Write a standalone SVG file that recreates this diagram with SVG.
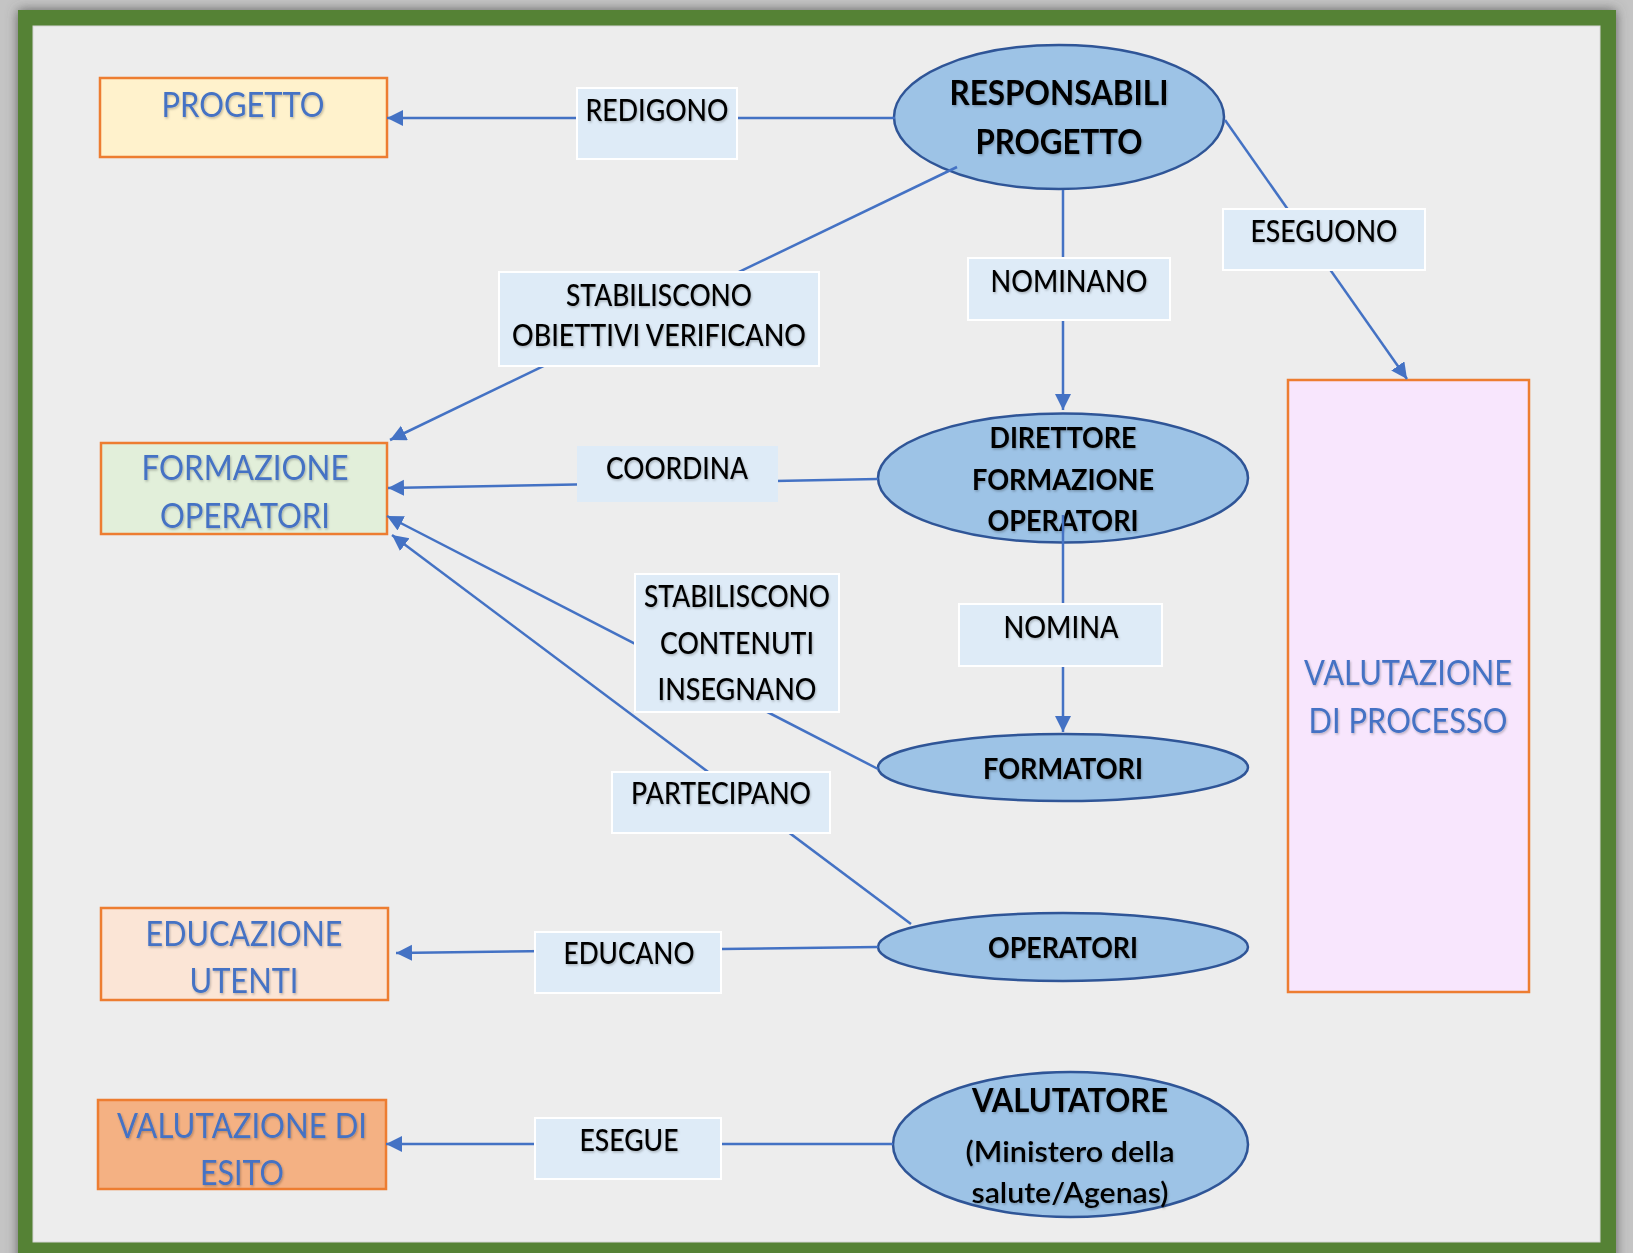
<svg xmlns="http://www.w3.org/2000/svg" width="1633" height="1253" viewBox="0 0 1633 1253">
<defs>
<filter id="fshadow" x="-5%" y="-5%" width="110%" height="110%">
<feDropShadow dx="0" dy="0" stdDeviation="6" flood-color="#555555" flood-opacity="0.9"/>
</filter>
<filter id="tshadow" x="-10%" y="-30%" width="120%" height="160%">
<feDropShadow dx="1" dy="1.5" stdDeviation="1" flood-color="#000000" flood-opacity="0.25"/>
</filter>
<marker id="arr" markerUnits="userSpaceOnUse" markerWidth="17" markerHeight="17" refX="16" refY="8" orient="auto">
<path d="M0,0 L16,8 L0,16 z" fill="#4472c4"/>
</marker>
</defs>
<style>
.box{stroke:#ed7d31;stroke-width:2.5}
.ell{fill:#9dc3e6;stroke:#2f5597;stroke-width:2.5}
.lbl{fill:#deebf7;stroke:#ffffff;stroke-width:2}
.con{fill:none;stroke:#4472c4;stroke-width:2.5}
.arrow{marker-end:url(#arr)}
text{font-family:Lato,"Open Sans","Liberation Sans",sans-serif;text-anchor:middle;filter:url(#tshadow)}
.bt{fill:#4472c4;font-size:34px}
.nt{fill:#000000;font-size:32px;font-weight:bold}
.lt{fill:#000000;font-size:30px;font-weight:500}
</style>
<rect x="0" y="0" width="1633" height="1253" fill="#c4c4c4"/>
<rect x="18" y="10" width="1598" height="1260" fill="#548235" filter="url(#fshadow)"/>
<rect x="33" y="26" width="1567" height="1216" fill="#ededed" stroke="#d6d6d6" stroke-width="1"/>

<g id="progetto">
<rect class="box" x="100" y="78" width="287" height="79" fill="#fff2cc"/>
<text class="bt" x="243" y="117" textLength="163" lengthAdjust="spacingAndGlyphs">PROGETTO</text>
</g>
<g id="formazione-operatori">
<rect class="box" x="101" y="443" width="286" height="91" fill="#e2efda"/>
<text class="bt" x="245" y="480" textLength="207" lengthAdjust="spacingAndGlyphs">FORMAZIONE</text>
<text class="bt" x="245" y="528" textLength="170" lengthAdjust="spacingAndGlyphs">OPERATORI</text>
</g>
<g id="educazione-utenti">
<rect class="box" x="101" y="908" width="287" height="92" fill="#fbe5d6"/>
<text class="bt" x="244" y="946" textLength="197" lengthAdjust="spacingAndGlyphs">EDUCAZIONE</text>
<text class="bt" x="244" y="993" textLength="109" lengthAdjust="spacingAndGlyphs">UTENTI</text>
</g>
<g id="valutazione-esito">
<rect class="box" x="98" y="1100" width="288" height="89" fill="#f4b183"/>
<text class="bt" x="242" y="1138" textLength="250" lengthAdjust="spacingAndGlyphs">VALUTAZIONE DI</text>
<text class="bt" x="242" y="1185" textLength="84" lengthAdjust="spacingAndGlyphs">ESITO</text>
</g>
<g id="valutazione-processo">
<rect class="box" x="1288" y="380" width="241" height="612" fill="#f8e6fd"/>
<text class="bt" x="1408" y="685" textLength="208" lengthAdjust="spacingAndGlyphs">VALUTAZIONE</text>
<text class="bt" x="1408" y="733" textLength="199" lengthAdjust="spacingAndGlyphs">DI PROCESSO</text>
</g>
<g id="responsabili-progetto">
<ellipse class="ell" cx="1059" cy="117" rx="165" ry="72"/>
<text class="nt" x="1059" y="105" textLength="219" lengthAdjust="spacingAndGlyphs" style="font-size:35px">RESPONSABILI</text>
<text class="nt" x="1059" y="154" textLength="167" lengthAdjust="spacingAndGlyphs" style="font-size:35px">PROGETTO</text>
</g>
<g id="direttore">
<ellipse class="ell" cx="1063" cy="478" rx="185" ry="64.5"/>
<text class="nt" x="1063" y="448" textLength="147" lengthAdjust="spacingAndGlyphs" style="font-size:29px">DIRETTORE</text>
<text class="nt" x="1063" y="490" textLength="182" lengthAdjust="spacingAndGlyphs" style="font-size:29px">FORMAZIONE</text>
<text class="nt" x="1063" y="531" textLength="151" lengthAdjust="spacingAndGlyphs" style="font-size:29px">OPERATORI</text>
</g>
<g id="formatori">
<ellipse class="ell" cx="1063" cy="767.5" rx="185" ry="33.5"/>
<text class="nt" x="1063" y="779" textLength="160" lengthAdjust="spacingAndGlyphs" style="font-size:29px">FORMATORI</text>
</g>
<g id="operatori">
<ellipse class="ell" cx="1063" cy="947" rx="185" ry="34"/>
<text class="nt" x="1063" y="958" textLength="150" lengthAdjust="spacingAndGlyphs" style="font-size:29px">OPERATORI</text>
</g>
<g id="valutatore">
<ellipse class="ell" cx="1070.5" cy="1144.5" rx="177.5" ry="72.5"/>
<text class="nt" x="1070" y="1112" textLength="196" lengthAdjust="spacingAndGlyphs" style="font-size:33px">VALUTATORE</text>
<text class="nt" x="1070" y="1162" textLength="209" lengthAdjust="spacingAndGlyphs" style="font-size:28px;font-weight:600">(Ministero della</text>
<text class="nt" x="1070" y="1203" textLength="197" lengthAdjust="spacingAndGlyphs" style="font-size:28px;font-weight:600">salute/Agenas)</text>
</g>

<g id="connectors">
<path class="con arrow" d="M895,118 L387,118"/>
<path class="con arrow" d="M957,167 L390,440"/>
<path class="con arrow" d="M1063,190 L1063,410"/>
<path class="con arrow" d="M1225,120 L1407,379"/>
<path class="con arrow" d="M878,479 L388,488"/>
<path class="con arrow" d="M1063,515 L1063,732"/>
<path class="con arrow" d="M878,769 L387,516"/>
<path class="con arrow" d="M911,924 L392,535"/>
<path class="con arrow" d="M878,947 L396,953"/>
<path class="con arrow" d="M893,1144 L386,1144"/>
</g>

<g id="labels">
<g id="lbl-redigono">
<rect class="lbl" x="577" y="88" width="160" height="71"/>
<text class="lt" x="657" y="121" textLength="143" lengthAdjust="spacingAndGlyphs">REDIGONO</text>
</g>
<g id="lbl-stabiliscono-obiettivi">
<rect class="lbl" x="499" y="272" width="320" height="94"/>
<text class="lt" x="659" y="306" textLength="186" lengthAdjust="spacingAndGlyphs">STABILISCONO</text>
<text class="lt" x="659" y="346" textLength="294" lengthAdjust="spacingAndGlyphs">OBIETTIVI VERIFICANO</text>
</g>
<g id="lbl-nominano">
<rect class="lbl" x="968" y="258" width="202" height="62"/>
<text class="lt" x="1069" y="292" textLength="157" lengthAdjust="spacingAndGlyphs">NOMINANO</text>
</g>
<g id="lbl-eseguono">
<rect class="lbl" x="1223" y="209" width="202" height="61"/>
<text class="lt" x="1324" y="242" textLength="147" lengthAdjust="spacingAndGlyphs">ESEGUONO</text>
</g>
<g id="lbl-coordina">
<rect x="577" y="446" width="201" height="56" fill="#deebf7"/>
<text class="lt" x="677" y="479" textLength="142" lengthAdjust="spacingAndGlyphs">COORDINA</text>
</g>
<g id="lbl-nomina">
<rect class="lbl" x="959" y="604" width="203" height="62"/>
<text class="lt" x="1061" y="638" textLength="115" lengthAdjust="spacingAndGlyphs">NOMINA</text>
</g>
<g id="lbl-stabiliscono-contenuti">
<rect class="lbl" x="635" y="574" width="204" height="138"/>
<text class="lt" x="737" y="607" textLength="186" lengthAdjust="spacingAndGlyphs">STABILISCONO</text>
<text class="lt" x="737" y="654" textLength="154" lengthAdjust="spacingAndGlyphs">CONTENUTI</text>
<text class="lt" x="737" y="700" textLength="159" lengthAdjust="spacingAndGlyphs">INSEGNANO</text>
</g>
<g id="lbl-partecipano">
<rect class="lbl" x="612" y="772" width="218" height="61"/>
<text class="lt" x="721" y="804" textLength="180" lengthAdjust="spacingAndGlyphs">PARTECIPANO</text>
</g>
<g id="lbl-educano">
<rect class="lbl" x="535" y="932" width="186" height="61"/>
<text class="lt" x="629" y="964" textLength="131" lengthAdjust="spacingAndGlyphs">EDUCANO</text>
</g>
<g id="lbl-esegue">
<rect class="lbl" x="535" y="1118" width="186" height="61"/>
<text class="lt" x="629" y="1151" textLength="99" lengthAdjust="spacingAndGlyphs">ESEGUE</text>
</g>
</g>
</svg>
